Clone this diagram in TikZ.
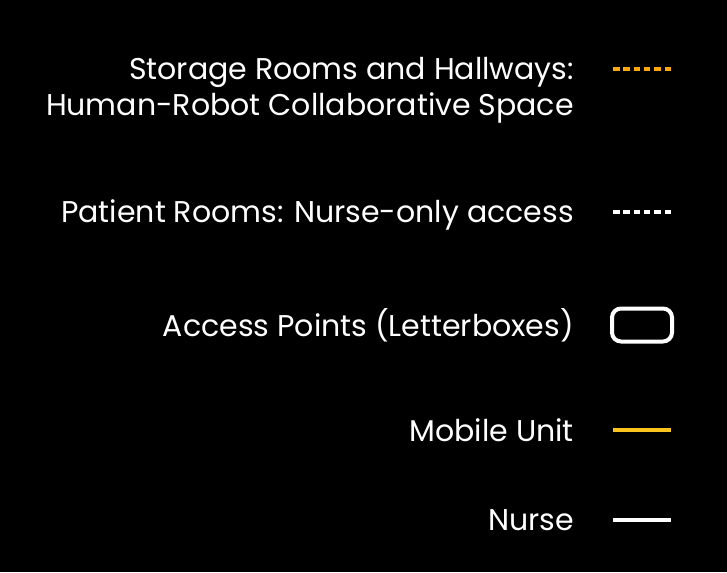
\documentclass[tikz,border=0pt]{standalone}
\usepackage{fontspec}
\setmainfont{Poppins}
\definecolor{dorange}{HTML}{FFA80D}
\definecolor{myellow}{HTML}{FAC41E}
\tikzset{
  lbl/.style={anchor=base east, text=white, align=right, inner sep=0pt, font=\fontsize{30}{36}\selectfont},
  swatch/.style={line width=3.8pt},
  dashswatch/.style={line width=4pt, dash pattern=on 6.5pt off 3.8pt},
}
\begin{document}
\begin{tikzpicture}[x=1pt,y=-1pt]
\fill[black] (0,0) rectangle (727,572);
\useasboundingbox (0,0) rectangle (727,572);
\node[lbl] (t1) at (574,116) {Storage Rooms and Hallways:\\Human-Robot Collaborative Space};
\node[lbl] (t2) at (574,222) {Patient Rooms: Nurse-only access};
\node[lbl] (t3) at (574,336) {Access Points (Letterboxes)};
\node[lbl] (t4) at (574,441) {Mobile Unit};
\node[lbl] (t5) at (574,530) {Nurse};
\coordinate (a1) at (613,69); \coordinate (b1) at (671,69);
\draw[dorange, dashswatch] (a1) -- (b1);
\coordinate (a2) at (613,212); \coordinate (b2) at (671,212);
\draw[white, dashswatch] (a2) -- (b2);
\node[draw=white, line width=4pt, rounded corners=9pt, minimum width=60pt, minimum height=33pt, inner sep=0pt] (box) at (642,325) {};
\coordinate (a4) at (613,430); \coordinate (b4) at (671,430);
\draw[myellow, swatch] (a4) -- (b4);
\coordinate (a5) at (613,520); \coordinate (b5) at (671,520);
\draw[white, swatch] (a5) -- (b5);
\end{tikzpicture}
\end{document}
